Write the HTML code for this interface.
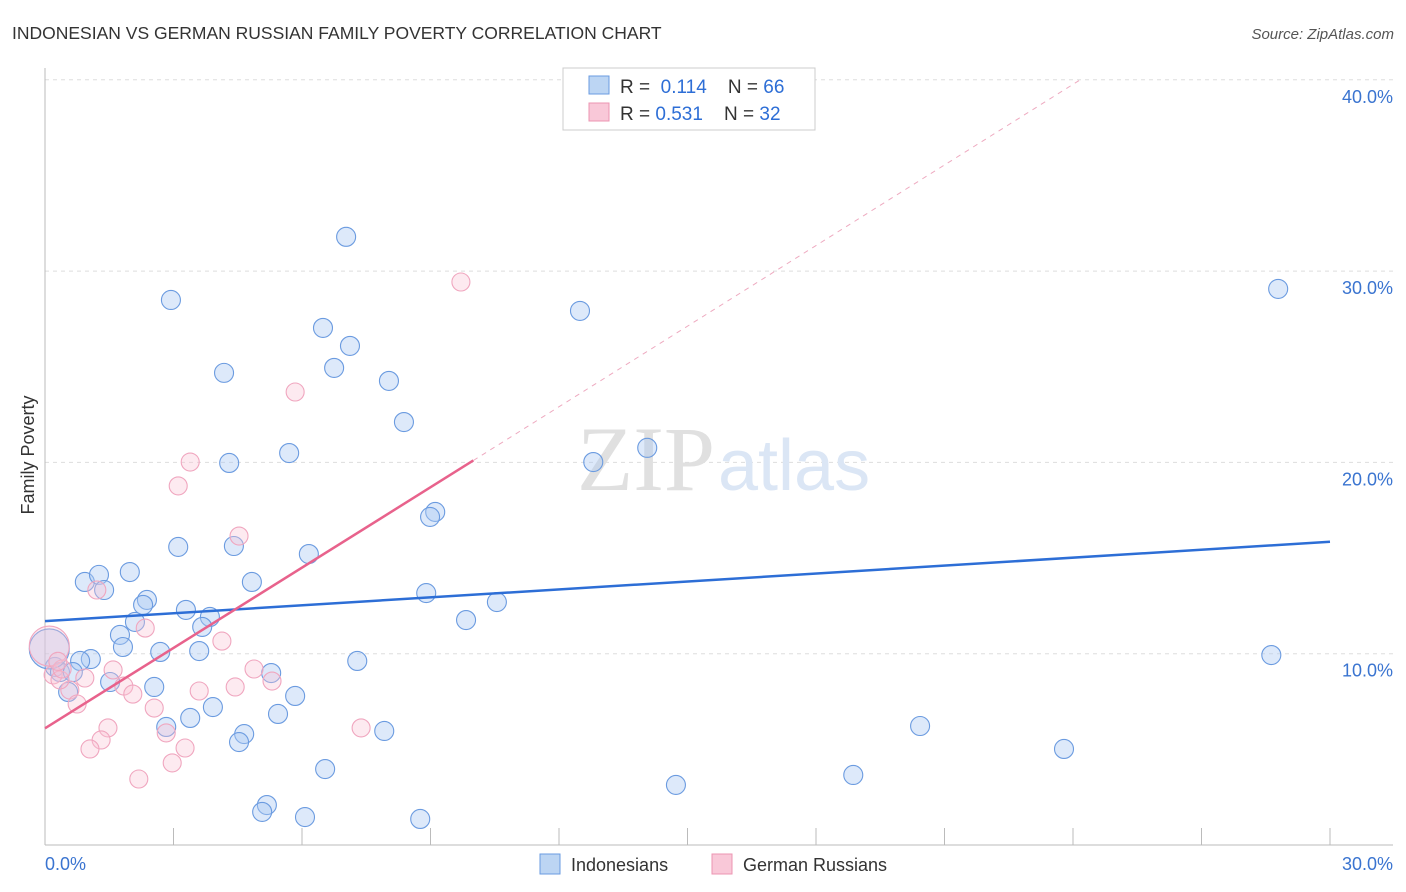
<!DOCTYPE html>
<html><head><meta charset="utf-8"><style>
body{margin:0;background:#fff;font-family:"Liberation Sans",sans-serif;}
svg{display:block}
</style></head><body>
<svg width="1406" height="892">
<text x="12" y="39" font-size="17.5" fill="#333">INDONESIAN VS GERMAN RUSSIAN FAMILY POVERTY CORRELATION CHART</text>
<text x="1394" y="39" font-size="15" fill="#555" font-style="italic" text-anchor="end">Source: ZipAtlas.com</text>
<g id="grid"></g>
<text x="715" y="490" font-size="92" fill="#e0e0e0" text-anchor="end" font-family="Liberation Serif">ZIP</text>
<text x="718" y="490" font-size="72" fill="#dbe6f5">atlas</text>
<g id="pts"></g>
<g id="lines"></g>
<text x="34" y="455" font-size="18" fill="#333" text-anchor="middle" transform="rotate(-90 34 455)">Family Poverty</text>
<text x="45" y="870" font-size="18" fill="#3a74d0">0.0%</text>
<text x="1393" y="870" font-size="18" fill="#3a74d0" text-anchor="end">30.0%</text>
<g>
<rect x="563" y="68" width="252" height="62" fill="#fff" stroke="#ccc"/>
<rect x="589" y="76" width="20" height="18" fill="#bcd5f3" stroke="#6a9be0"/>
<rect x="589" y="103" width="20" height="18" fill="#f9c8d8" stroke="#ec95b2"/>
<text x="620" y="93" font-size="19" fill="#333" xml:space="preserve">R =  <tspan fill="#2d6ed6">0.114</tspan>    N = <tspan fill="#2d6ed6">66</tspan></text>
<text x="620" y="120" font-size="19" fill="#333" xml:space="preserve">R = <tspan fill="#2d6ed6">0.531</tspan>    N = <tspan fill="#2d6ed6">32</tspan></text>
</g>
<g>
<rect x="540" y="854" width="20" height="20" fill="#bcd5f3" stroke="#6a9be0"/>
<text x="571" y="871" font-size="18" fill="#333">Indonesians</text>
<rect x="712" y="854" width="20" height="20" fill="#f9c8d8" stroke="#ec95b2"/>
<text x="743" y="871" font-size="18" fill="#333">German Russians</text>
</g>
</svg>
<script>
const blueX=[7.03,2.94,6.49,7.12,6.75,4.18,8.03,8.38,5.70,4.30,12.80,14.06,12.49,28.79,9.11,8.99,3.11,4.41,6.16,0.93,1.26,1.98,1.38,4.83,8.90,2.38,2.29,10.55,3.29,3.85,2.10,3.67,9.83,1.75,1.82,2.69,3.60,7.29,1.07,0.82,0.23,0.35,0.65,5.28,1.52,2.55,0.54,5.84,3.92,5.44,3.39,2.83,4.65,4.53,7.92,20.43,23.79,6.54,18.87,14.73,5.18,5.07,6.07,8.76,28.63,0.1];
const blueY=[31.79,28.49,27.03,26.09,24.94,24.68,24.26,22.11,20.49,19.97,20.02,20.76,27.92,29.07,17.41,17.15,15.58,15.63,15.21,13.75,14.12,14.27,13.33,13.75,13.17,12.81,12.55,12.70,12.29,11.92,11.66,11.40,11.76,10.98,10.35,10.09,10.14,9.62,9.72,9.62,9.31,9.04,9.04,8.99,8.52,8.26,8.00,7.79,7.21,6.85,6.64,6.17,5.80,5.38,5.96,6.22,5.02,3.97,3.66,3.14,2.09,1.73,1.46,1.36,9.93,10.25];
const pinkX=[9.71,5.84,3.39,3.11,4.53,1.21,2.34,4.13,1.59,4.88,0.93,5.30,1.84,0.58,4.44,3.60,2.05,2.55,0.75,1.47,7.38,2.83,1.31,3.27,1.05,2.97,2.19,0.1,0.19,0.35,0.40,0.3];
const pinkY=[29.43,23.68,20.02,18.77,16.15,13.33,11.34,10.66,9.15,9.20,8.73,8.57,8.31,8.10,8.26,8.05,7.89,7.16,7.37,6.12,6.12,5.86,5.49,5.07,5.02,4.29,3.45,10.4,8.89,8.63,9.2,9.6];
const yTicks=[10,20,30,40];
const yTickLabels=["10.0%","20.0%","30.0%","40.0%"];
const blueTrend=[[0,11.7],[30,15.85]];
const pinkTrend=[[0,6.1],[10,20.1]];
const pinkDash=[[10,20.1],[24.17,40]];
const X=v=>45+v/30*1285, Y=v=>845-v*19.13;
const ns="http://www.w3.org/2000/svg";
function mk(t,a,p){const e=document.createElementNS(ns,t);for(const k in a)e.setAttribute(k,a[k]);p.appendChild(e);return e;}
const g=document.getElementById('grid');
yTicks.forEach((t,i)=>{
 const l=mk('line',{x1:45,x2:1393,y1:Y(t),y2:Y(t),stroke:'#ddd','stroke-dasharray':'4,4'},g);
 
 
 const tx=mk('text',{x:1393,y:Y(t)+23,'font-size':18,fill:'#3a74d0','text-anchor':'end'},g);
 tx.textContent=yTickLabels[i];
 
 
});
const ax=mk('line',{x1:45,x2:45,y1:68,y2:845,stroke:'#bbb'},g);


const bx=mk('line',{x1:45,x2:1393,y1:845,y2:845,stroke:'#bbb'},g);


for(let i=0;i<=10;i++){
 const t=mk('line',{x1:X(i*3),x2:X(i*3),y1:828,y2:845,stroke:'#bbb'},g);
 
 
}
const p=document.getElementById('pts');
blueX.forEach((v,i)=>{
 const c=mk('circle',{cx:X(v),cy:Y(blueY[i]),r:i==blueX.length-1?20:9.5,fill:'rgba(170,200,242,0.4)',stroke:'#6b9be0','stroke-width':1.1},p);
 
 
});
pinkX.forEach((v,i)=>{
 const c=mk('circle',{cx:X(v),cy:Y(pinkY[i]),r:i==27?20:9,fill:'rgba(248,195,212,0.35)',stroke:'#f0a6bf','stroke-width':1.1},p);
 
 
});
const L=document.getElementById('lines');
const b=mk('line',{x1:X(blueTrend[0][0]),y1:Y(blueTrend[0][1]),x2:X(blueTrend[1][0]),y2:Y(blueTrend[1][1]),stroke:'#2d6ed6','stroke-width':2.5},L);


const pk=mk('line',{x1:X(pinkTrend[0][0]),y1:Y(pinkTrend[0][1]),x2:X(pinkTrend[1][0]),y2:Y(pinkTrend[1][1]),stroke:'#e8628c','stroke-width':2.5},L);


const pd=mk('line',{x1:X(pinkDash[0][0]),y1:Y(pinkDash[0][1]),x2:X(pinkDash[1][0]),y2:Y(pinkDash[1][1]),stroke:'#eeaac0','stroke-width':1,'stroke-dasharray':'5,5'},L);


</script>
</body></html>
